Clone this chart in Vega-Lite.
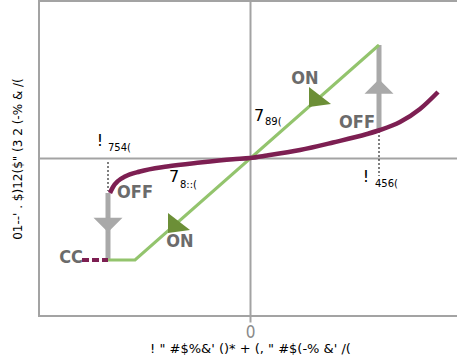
{
  "$schema": "https://vega.github.io/schema/vega-lite/v6.json",
  "autosize": "none",
  "width": 422,
  "height": 315,
  "padding": {"left": 39, "top": 1, "right": 0, "bottom": 48},
  "background": "white",
  "config": {
    "view": {"stroke": "#a3a3a3", "strokeWidth": 2},
    "axis": {"titleFont": "DejaVu Sans", "titleFontWeight": "normal", "titleColor": "#000000"}
  },
  "datasets": {
    "bars": [
      {"x": -142, "y": -35, "y2": -102},
      {"x": 129, "y": 113, "y2": 28}
    ],
    "headDown": [{"x": -142, "y": -67}],
    "headUp": [{"x": 129, "y": 71.5}],
    "dotted": [
      {"x": -142, "y": -4, "y2": -33},
      {"x": 129, "y": 27, "y2": -18}
    ],
    "onPath": [
      {"x": -142, "y": -102},
      {"x": -115, "y": -102},
      {"x": 129, "y": 113}
    ],
    "ccTail": [{"x": -168, "x2": -142, "y": -102}],
    "offCurve": [
      {"x": -140, "y": -35},
      {"x": -137, "y": -29},
      {"x": -132, "y": -23},
      {"x": -125, "y": -18.5},
      {"x": -110, "y": -13.5},
      {"x": -83, "y": -8.5},
      {"x": -50, "y": -4.5},
      {"x": -17, "y": -1.2},
      {"x": 0, "y": 0},
      {"x": 17, "y": 2.5},
      {"x": 50, "y": 8},
      {"x": 83, "y": 15.5},
      {"x": 117, "y": 24},
      {"x": 130, "y": 28},
      {"x": 150, "y": 36},
      {"x": 170, "y": 49},
      {"x": 188, "y": 66}
    ],
    "onHeads": [
      {"x": 66, "y": 59},
      {"x": -75, "y": -67}
    ],
    "stateLabels": [
      {"x": 55, "y": 79, "label": "ON"},
      {"x": 107, "y": 35, "label": "OFF"},
      {"x": -115, "y": -35, "label": "OFF"},
      {"x": -70, "y": -84, "label": "ON"},
      {"x": -179, "y": -100, "label": "CC"}
    ],
    "symbols": [
      {"x": -150, "y": 17, "label": "!"},
      {"x": -76, "y": -19, "label": "7"},
      {"x": 9, "y": 42, "label": "7"},
      {"x": 116, "y": -19, "label": "!"}
    ],
    "subscripts": [
      {"x": -142, "y": 10, "label": "754("},
      {"x": -70, "y": -27, "label": "8::("},
      {"x": 15, "y": 36, "label": "89("},
      {"x": 125, "y": -26, "label": "456("}
    ]
  },
  "encoding": {
    "x": {
      "field": "x",
      "type": "quantitative",
      "scale": {"domain": [-211, 211], "nice": false, "zero": false},
      "axis": {
        "values": [0],
        "grid": true,
        "gridColor": "#a3a3a3",
        "gridWidth": 2,
        "gridOpacity": 1,
        "domain": false,
        "ticks": true,
        "tickSize": 6,
        "tickWidth": 2,
        "tickColor": "#a3a3a3",
        "labelFont": "DejaVu Sans Condensed, Liberation Sans, sans-serif",
        "labelFontSize": 17,
        "labelColor": "#8a8a8a",
        "labelPadding": 2,
        "title": "! \" #$%&' ()* + (, \" #$(-% &' /(",
        "titleFontSize": 13,
        "titlePadding": 2
      }
    },
    "y": {
      "field": "y",
      "type": "quantitative",
      "scale": {"domain": [-158, 157], "nice": false, "zero": false},
      "axis": {
        "values": [0],
        "grid": true,
        "gridColor": "#a3a3a3",
        "gridWidth": 2,
        "gridOpacity": 1,
        "domain": false,
        "ticks": false,
        "labels": false,
        "title": "01--' . $)12($\" (3 2 (-% & /(",
        "titleFontSize": 12,
        "titlePadding": 15
      }
    }
  },
  "layer": [
    {
      "data": {"name": "bars"},
      "mark": {"type": "rule", "color": "#a9a9a9", "strokeWidth": 5},
      "encoding": {"y2": {"field": "y2"}}
    },
    {
      "data": {"name": "headDown"},
      "mark": {"type": "point", "shape": "M-1,-0.5L1,-0.5L0,0.5Z", "size": 841, "filled": true, "color": "#a9a9a9", "opacity": 1}
    },
    {
      "data": {"name": "headUp"},
      "mark": {"type": "point", "shape": "M-1,0.5L1,0.5L0,-0.5Z", "size": 841, "filled": true, "color": "#a9a9a9", "opacity": 1}
    },
    {
      "data": {"name": "dotted"},
      "mark": {"type": "rule", "color": "#000000", "strokeWidth": 1, "strokeDash": [2, 2]},
      "encoding": {"y2": {"field": "y2"}}
    },
    {
      "data": {"name": "onPath"},
      "mark": {"type": "line", "color": "#93c46d", "strokeWidth": 3}
    },
    {
      "data": {"name": "ccTail"},
      "mark": {"type": "rule", "color": "#7d1f52", "strokeWidth": 4, "strokeDash": [7, 3]},
      "encoding": {"x2": {"field": "x2"}}
    },
    {
      "data": {"name": "offCurve"},
      "mark": {"type": "line", "color": "#7d1f52", "strokeWidth": 4.5, "interpolate": "monotone"}
    },
    {
      "data": {"name": "onHeads"},
      "mark": {"type": "point", "shape": "M-0.7,-1.2L-0.7,0.8L1.5,0.5Z", "size": 400, "filled": true, "color": "#6c8f37", "opacity": 1}
    },
    {
      "data": {"name": "stateLabels"},
      "mark": {"type": "text", "font": "DejaVu Sans Condensed, Liberation Sans, sans-serif", "fontWeight": "bold", "fontSize": 18, "color": "#6b6b6b", "align": "center", "baseline": "middle"},
      "encoding": {"text": {"field": "label"}}
    },
    {
      "data": {"name": "symbols"},
      "mark": {"type": "text", "font": "DejaVu Sans", "fontSize": 16, "color": "#000000", "align": "center", "baseline": "middle"},
      "encoding": {"text": {"field": "label"}}
    },
    {
      "data": {"name": "subscripts"},
      "mark": {"type": "text", "font": "DejaVu Sans", "fontSize": 10, "color": "#000000", "align": "left", "baseline": "middle"},
      "encoding": {"text": {"field": "label"}}
    }
  ]
}
